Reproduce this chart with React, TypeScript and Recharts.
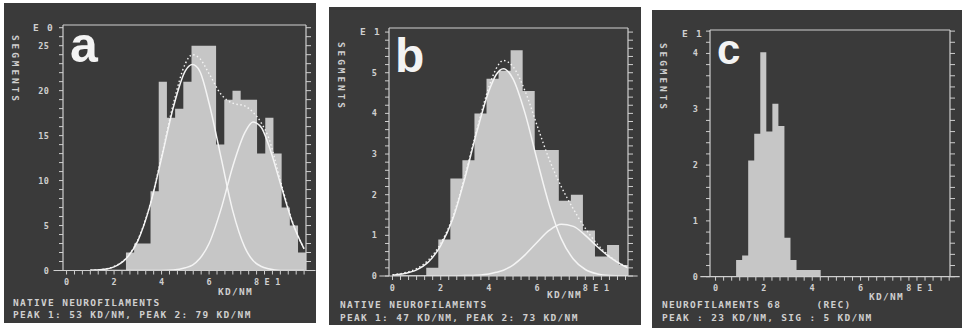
import { ComposedChart, Area, Line, XAxis, YAxis, ReferenceLine } from "recharts";

const BG = "#3a3a3a";
const INK = "#cfcfcf";
const BAR = "#c6c6c6";
const CURVE = "#f4f4f4";
const MONO = "'DejaVu Sans Mono', 'Liberation Mono', monospace";
const SANS = "'Liberation Sans', Arial, sans-serif";

// x tick labels (shared by all three panels)
const X_LABEL_AT = [0, 2, 4, 6, 8];
const X_LABEL_TEXT = ["0", "2", "4", "6", "8 E 1"];

// panel a – native neurofilaments, two gaussian fit
const A_BIN_START = 2.5;
const A_BIN_WIDTH = 0.345;
const A_COUNTS = [2, 3, 3, 8.8, 21, 17, 18, 21, 25, 25, 25, 14, 19, 20, 19, 19, 13, 17, 13, 7, 5, 2];
const A_FIT_X = [1, 1.5, 2, 2.5, 3, 3.5, 4, 4.5, 5, 5.3, 5.6, 6, 6.5, 7, 7.5, 7.85, 8.2, 8.5, 9, 9.5, 10];
const A_SUM = [0.03, 0.12, 0.45, 1.35, 3.4, 7.2, 12.7, 18.6, 23.0, 24.0, 23.6, 21.9, 19.6, 18.6, 18.3, 17.6, 16.4, 14.8, 10.0, 5.5, 2.4];
const A_PEAK1 = [0.02, 0.1, 0.4, 1.3, 3.3, 7.1, 12.5, 18.2, 22.2, 22.9, 22.2, 18.6, 12.6, 6.6, 2.6, 1.1, 0.45, 0.2, 0, 0, 0];
const A_PEAK2 = [0, 0, 0, 0, 0, 0, 0.01, 0.05, 0.3, 0.6, 1.3, 3.0, 6.8, 11.6, 15.3, 16.5, 15.9, 14.0, 9.7, 5.4, 2.4];
const A_Y_LABELS = [0, 5, 10, 15, 20, 25];

// panel b
const B_BIN_START = 1.4;
const B_BIN_WIDTH = 0.5;
const B_COUNTS = [0.2, 0.9, 2.4, 2.85, 4.0, 4.85, 5.05, 5.55, 4.55, 3.1, 3.1, 1.85, 2.0, 1.12, 0.48, 0.76, 0.27];
const B_FIT_X = [0, 0.5, 1, 1.5, 2, 2.5, 3, 3.5, 4, 4.3, 4.6, 5, 5.5, 6, 6.5, 7, 7.5, 8, 8.5, 9, 9.5, 9.77];
const B_SUM = [0.03, 0.08, 0.18, 0.4, 0.8, 1.45, 2.45, 3.6, 4.65, 5.1, 5.3, 5.15, 4.55, 3.7, 2.87, 2.2, 1.65, 1.17, 0.78, 0.49, 0.29, 0.21];
const B_PEAK1 = [0.02, 0.06, 0.15, 0.35, 0.75, 1.4, 2.4, 3.55, 4.55, 4.95, 5.1, 4.85, 4.0, 2.85, 1.75, 0.92, 0.42, 0.16, 0.05, 0.01, 0, 0];
const B_PEAK2 = [0, 0, 0, 0, 0, 0, 0.01, 0.02, 0.05, 0.09, 0.14, 0.27, 0.52, 0.83, 1.12, 1.27, 1.22, 1.0, 0.72, 0.47, 0.28, 0.2];
const B_Y_LABELS = [0, 1, 2, 3, 4, 5];

// panel c – neurofilaments 68 (rec)
const C_BIN_START = 0.85;
const C_BIN_WIDTH = 0.25;
const C_COUNTS = [0.3, 0.38, 2.08, 2.56, 4.02, 2.6, 3.1, 2.7, 0.7, 0.3, 0.12, 0.12, 0.12, 0.12];
const C_Y_LABELS = [0, 1, 2, 3, 4];

const YW = 30;
const RW = 6;
const XH = 20;

const near = (a: number, b: number) => Math.abs(a - b) < 1e-6;

function steps(start: number, w: number, counts: number[]) {
  const pts = counts.map((c, i) => ({ x: start + i * w, y: c }));
  pts.push({ x: start + counts.length * w, y: counts[counts.length - 1] });
  return pts;
}

function pairs(xs: number[], ys: number[]) {
  return xs.map((x, i) => ({ x, y: ys[i] }));
}

function range(max: number, step: number) {
  const out: number[] = [];
  for (let k = 0; k * step <= max + 1e-9; k++) out.push(+(k * step).toFixed(4));
  return out;
}

type Cfg = {
  box: { x: number; y: number; w: number; h: number };
  plot: { l: number; t: number; r: number; b: number };
  xDomain: [number, number];
  yDomain: [number, number];
  yStep: number;
  yLabels: number[];
  yGap: number;
  bins: { x: number; y: number }[];
  fits: { data: { x: number; y: number }[]; dotted?: boolean }[];
};

const tickText = { fontFamily: MONO, fontSize: 8.5, fontWeight: 700, letterSpacing: 0.2, fill: INK } as const;

function Panel({ cfg }: { cfg: Cfg }) {
  const { box, plot, xDomain, yDomain } = cfg;
  const margin = {
    top: plot.t - box.y,
    left: plot.l - box.x - YW,
    right: box.x + box.w - plot.r - RW,
    bottom: box.y + box.h - plot.b - XH,
  };
  const xTicks = range(xDomain[1], 1 / 3);
  const yTicks = range(yDomain[1], cfg.yStep);

  const xTick = (p: any) => {
    const v = p.payload.value;
    const idx = X_LABEL_AT.findIndex((L) => near(L, v));
    const last = idx === X_LABEL_AT.length - 1;
    return (
      <g>
        <line x1={p.x} y1={p.y} x2={p.x} y2={p.y + 4} stroke={INK} strokeWidth={1} />
        {idx >= 0 && (
          <text x={last ? p.x - 2.6 : p.x} y={p.y + 14.5} textAnchor={last ? "start" : "middle"} {...tickText}>
            {X_LABEL_TEXT[idx]}
          </text>
        )}
      </g>
    );
  };

  const yTick = (p: any) => {
    const v = p.payload.value;
    const lab = cfg.yLabels.find((L) => near(L, v));
    return (
      <g>
        <line x1={p.x - 4} y1={p.y} x2={p.x} y2={p.y} stroke={INK} strokeWidth={1} />
        {lab !== undefined && (
          <text x={p.x - cfg.yGap} y={p.y + 3} textAnchor="end" {...tickText}>
            {lab}
          </text>
        )}
      </g>
    );
  };

  const rTick = (p: any) => (
    <line x1={p.x} y1={p.y} x2={p.x + 5} y2={p.y} stroke={INK} strokeWidth={1} />
  );

  return (
    <div style={{ position: "absolute", left: box.x, top: box.y, width: box.w, height: box.h, background: BG }}>
      <ComposedChart width={box.w} height={box.h} margin={margin}>
        <XAxis type="number" dataKey="x" domain={xDomain} allowDataOverflow ticks={xTicks} interval={0}
          height={XH} axisLine={false} tickLine={false} tickSize={0} tickMargin={0} tick={xTick} />
        <YAxis type="number" domain={yDomain} allowDataOverflow ticks={yTicks} interval={0} width={YW}
          tickLine={false} tickSize={0} tickMargin={0} axisLine={{ stroke: INK, strokeWidth: 1.2 }} tick={yTick} />
        <YAxis yAxisId="r" orientation="right" type="number" domain={yDomain} allowDataOverflow ticks={yTicks}
          interval={0} width={RW} tickLine={false} tickSize={0} tickMargin={0}
          axisLine={{ stroke: INK, strokeWidth: 1.2 }} tick={rTick} />
        <Area data={cfg.bins} dataKey="y" type="stepAfter" fill={BAR} fillOpacity={1} stroke="none"
          isAnimationActive={false} />
        {cfg.fits.map((f, i) => (
          <Line key={i} data={f.data} dataKey="y" type="monotone" dot={false} activeDot={false}
            stroke={CURVE} strokeWidth={f.dotted ? 1.4 : 1.5} strokeDasharray={f.dotted ? "1.5 2.5" : undefined}
            isAnimationActive={false} />
        ))}
        <ReferenceLine y={yDomain[1]} stroke={INK} strokeWidth={1.2} ifOverflow="visible" />
        <ReferenceLine segment={[{ x: xDomain[0] - 0.4, y: 0 }, { x: xDomain[1] + 0.4, y: 0 }]}
          stroke={INK} strokeWidth={1.2} ifOverflow="visible" />
      </ComposedChart>
    </div>
  );
}

const PANELS: Cfg[] = [
  {
    box: { x: 4, y: 3, w: 312, h: 320 },
    plot: { l: 63, t: 25, r: 306, b: 270.5 },
    xDomain: [-0.15, 10.08],
    yDomain: [0, 27.3],
    yStep: 1,
    yLabels: A_Y_LABELS,
    yGap: 14,
    bins: steps(A_BIN_START, A_BIN_WIDTH, A_COUNTS),
    fits: [
      { data: pairs(A_FIT_X, A_PEAK1) },
      { data: pairs(A_FIT_X, A_PEAK2) },
      { data: pairs(A_FIT_X, A_SUM), dotted: true },
    ],
  },
  {
    box: { x: 329, y: 7, w: 312, h: 318 },
    plot: { l: 389, t: 28, r: 628, b: 276 },
    xDomain: [-0.145, 9.77],
    yDomain: [0, 6.1],
    yStep: 0.2,
    yLabels: B_Y_LABELS,
    yGap: 12,
    bins: steps(B_BIN_START, B_BIN_WIDTH, B_COUNTS),
    fits: [
      { data: pairs(B_FIT_X, B_PEAK1) },
      { data: pairs(B_FIT_X, B_PEAK2) },
      { data: pairs(B_FIT_X, B_SUM), dotted: true },
    ],
  },
  {
    box: { x: 652, y: 10, w: 310, h: 318 },
    plot: { l: 710, t: 30, r: 950, b: 276.7 },
    xDomain: [-0.23, 9.7],
    yDomain: [0, 4.42],
    yStep: 0.2,
    yLabels: C_Y_LABELS,
    yGap: 12,
    bins: steps(C_BIN_START, C_BIN_WIDTH, C_COUNTS),
    fits: [],
  },
];

const mono = { fontFamily: MONO, fontSize: 9.5, fontWeight: 700, letterSpacing: 1.3, fill: INK } as const;
const big = { fontFamily: SANS, fontWeight: 700, fill: "#f3f3f3" } as const;

function Seg({ x, y }: { x: number; y: number }) {
  return (
    <text transform={`translate(${x} ${y}) rotate(90)`} fontFamily={MONO} fontSize={9.5} fontWeight={700}
      letterSpacing={2.9} fill={INK}>
      SEGMENTS
    </text>
  );
}

export default function App() {
  return (
    <div style={{ position: "fixed", left: 0, top: 0, width: 965, height: 330, background: "#fff", overflow: "hidden" }}>
      {PANELS.map((c, i) => (
        <Panel key={i} cfg={c} />
      ))}
      <svg width={965} height={330} style={{ position: "absolute", left: 0, top: 0, pointerEvents: "none" }}>
        {/* panel a */}
        <text x={70} y={62} fontSize={50} {...big}>a</text>
        <text x={33} y={31} {...mono}>E 0</text>
        <Seg x={12} y={35} />
        <text x={218} y={295} {...mono}>KD/NM</text>
        <text x={13} y={306} {...mono}>NATIVE NEUROFILAMENTS</text>
        <text x={13} y={318} {...mono}>PEAK 1: 53 KD/NM, PEAK 2: 79 KD/NM</text>

        {/* panel b */}
        <text x={395} y={72} fontSize={48} {...big}>b</text>
        <text x={360} y={35} {...mono}>E 1</text>
        <Seg x={338} y={42} />
        <text x={547} y={298} {...mono}>KD/NM</text>
        <text x={340} y={308} {...mono}>NATIVE NEUROFILAMENTS</text>
        <text x={340} y={321} {...mono}>PEAK 1: 47 KD/NM, PEAK 2: 73 KD/NM</text>

        {/* panel c */}
        <text x={717} y={64} fontSize={42} {...big}>c</text>
        <text x={682} y={37} {...mono}>E 1</text>
        <Seg x={660} y={43} />
        <text x={869} y={300} {...mono}>KD/NM</text>
        <text x={662} y={308} {...mono} style={{ whiteSpace: "pre" }}>{"NEUROFILAMENTS 68     (REC)"}</text>
        <text x={662} y={321} {...mono}>PEAK : 23 KD/NM, SIG : 5 KD/NM</text>
      </svg>
    </div>
  );
}
